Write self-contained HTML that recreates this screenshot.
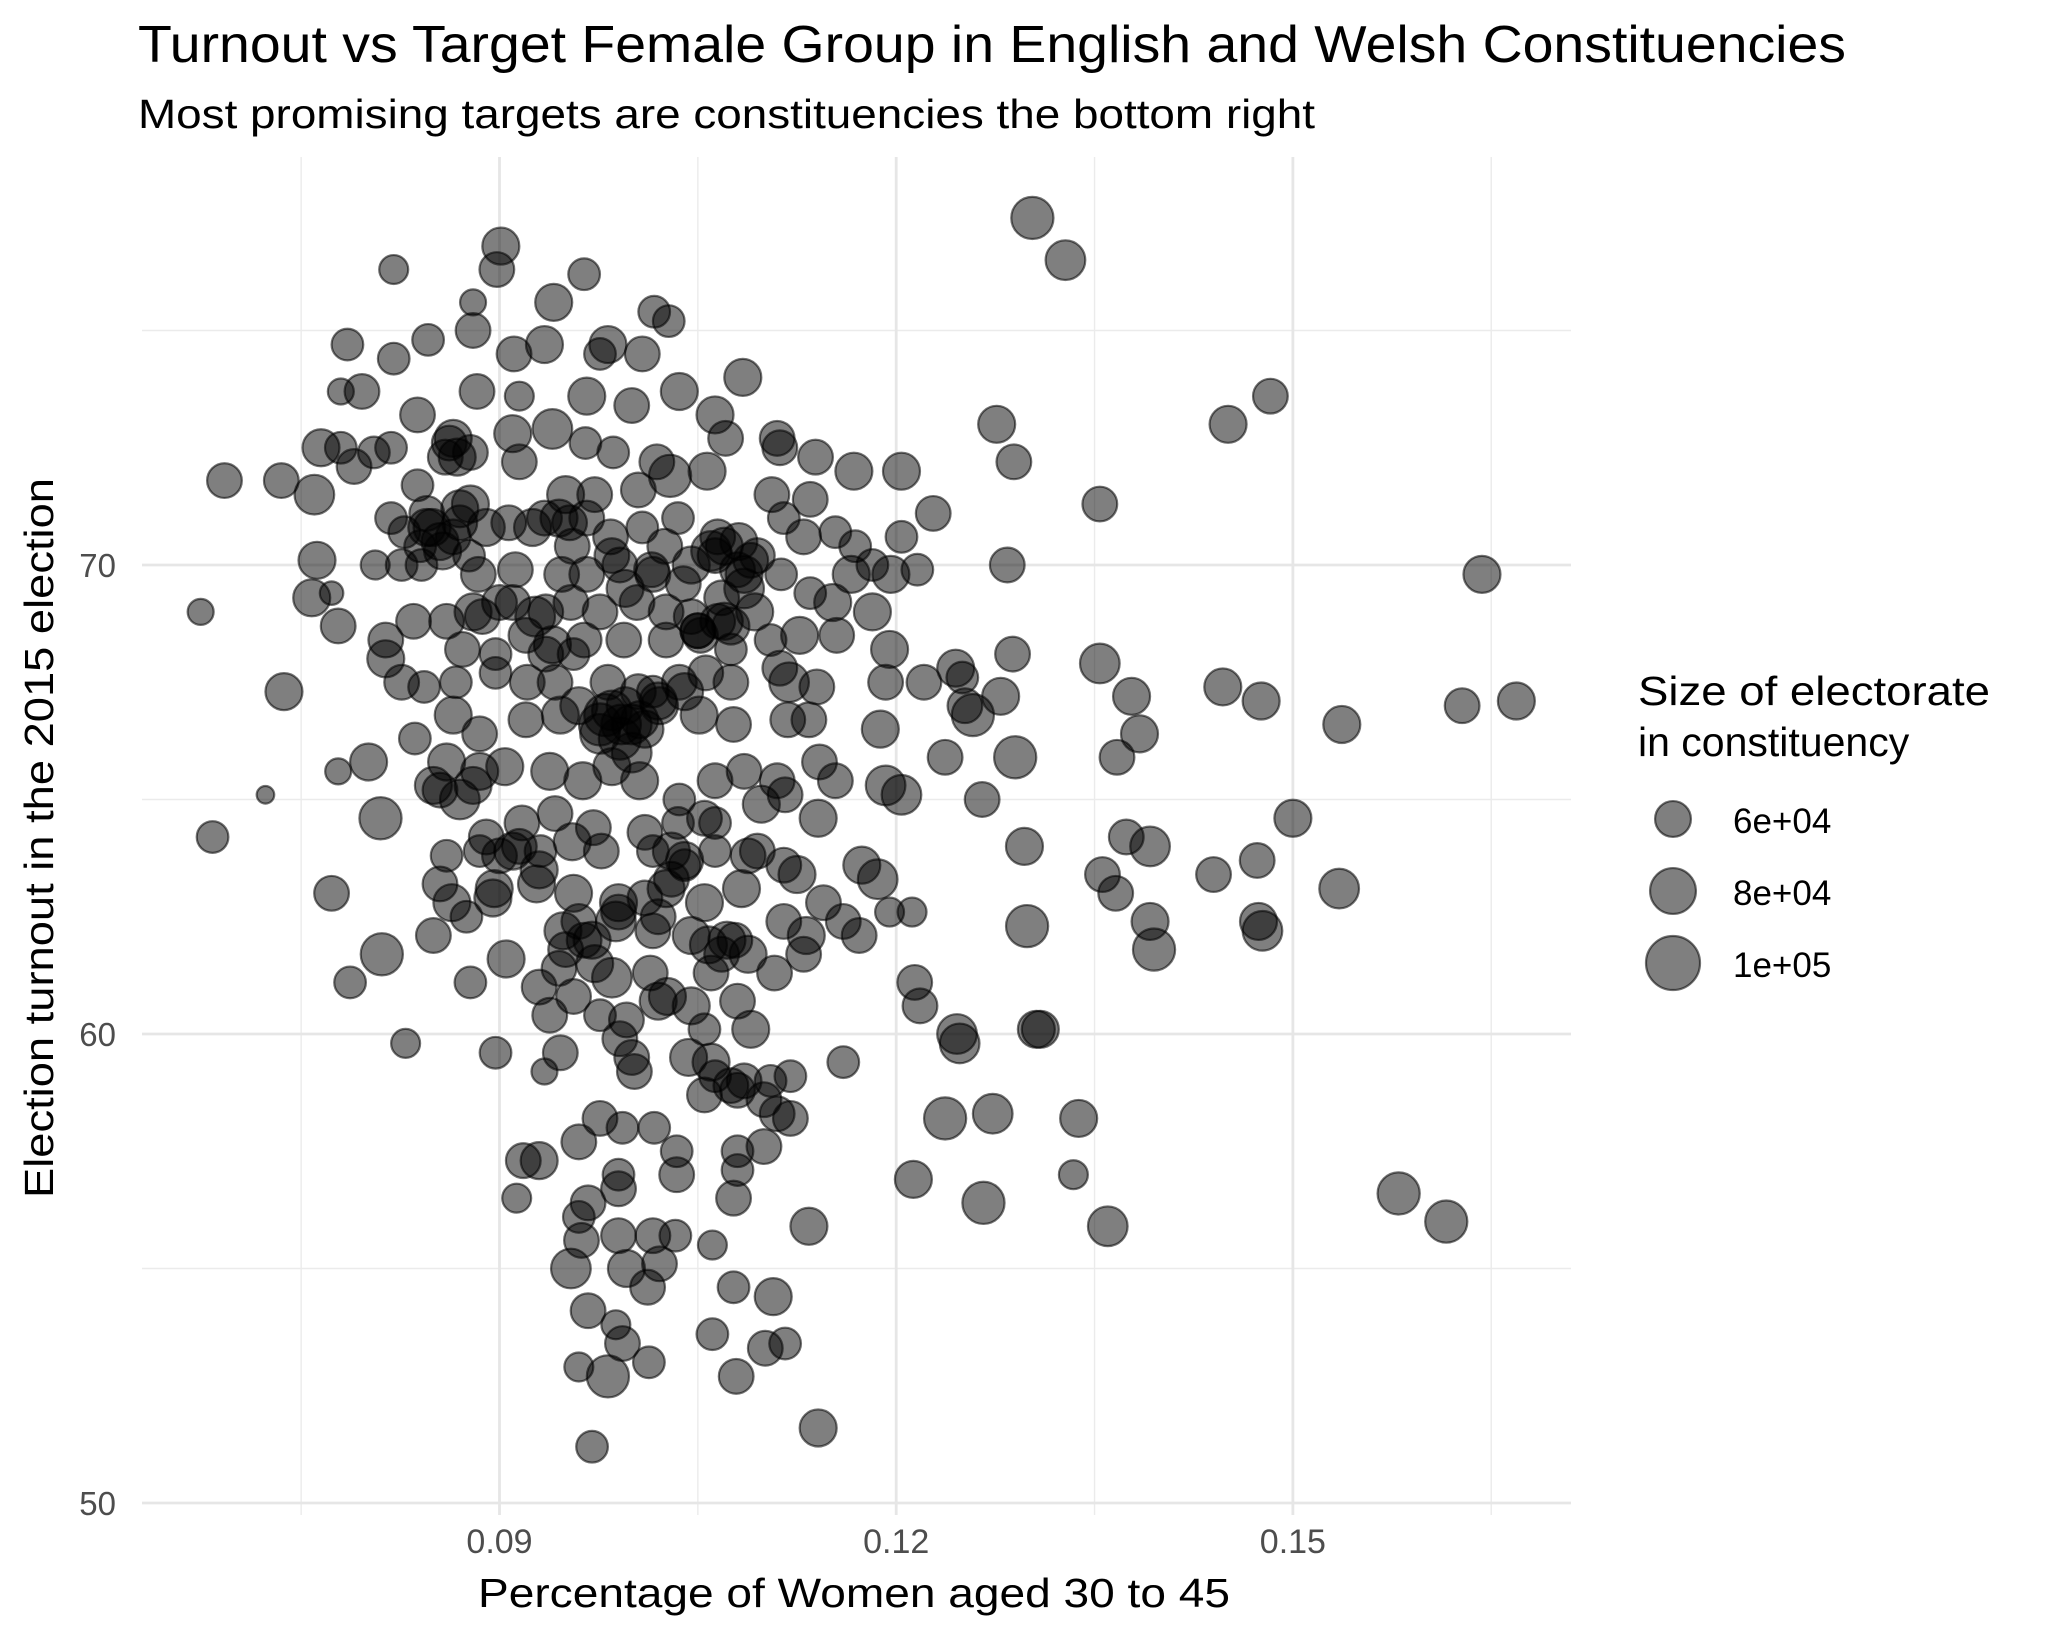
<!DOCTYPE html>
<html><head><meta charset="utf-8"><style>
html,body{margin:0;padding:0;background:#fff}
svg{display:block;font-family:"Liberation Sans",Arial,sans-serif}
</style></head><body>
<svg id="chart" width="2050" height="1641" viewBox="0 0 2050 1641" xmlns="http://www.w3.org/2000/svg">
<rect x="0" y="0" width="2050" height="1641" fill="#fff"/>
<g id="grid"></g>
<g id="points"></g>
<g id="axes"></g>
<text x="138" y="62" font-size="52" textLength="1708" lengthAdjust="spacingAndGlyphs" fill="#000">Turnout vs Target Female Group in English and Welsh Constituencies</text>
<text x="138" y="128" font-size="41" textLength="1177" lengthAdjust="spacingAndGlyphs" fill="#000">Most promising targets are constituencies the bottom right</text>
<text x="854" y="1607" font-size="41" text-anchor="middle" textLength="752" lengthAdjust="spacingAndGlyphs" fill="#000">Percentage of Women aged 30 to 45</text>
<text x="0" y="0" font-size="41" text-anchor="middle" textLength="720" lengthAdjust="spacingAndGlyphs" transform="translate(53,838) rotate(-90)" fill="#000">Election turnout in the 2015 election</text>
<g id="legend">
<text x="1638" y="705" font-size="41" textLength="352" lengthAdjust="spacingAndGlyphs">Size of electorate</text>
<text x="1638" y="756" font-size="41">in constituency</text>
</g>
</svg>
<script>
const xTicks=[0.09,0.12,0.15];
const xTickLabels=["0.09","0.12","0.15"];
const xMinor=[0.075,0.105,0.135,0.165];
const yTicks=[50,60,70];
const yTickLabels=["50","60","70"];
const yMinor=[55,65,75];
const legendSizes=[60000,80000,100000];
const legendLabels=["6e+04","8e+04","1e+05"];
const pct=[.1303,.1328,.1483,.1451,.1276,.1289,.1354,.1643,.1284,.1288,.1354,.1378,.1447,.1476,.1628,.1669,.1537,.1384,.1367,.1279,.1290,.1265,.1500,.1297,.1374,.1392,.1356,.1366,.1440,.1473,.1535,.1299,.1392,.1474,.1477,.1395,.1306,.1309,.1246,.1248,.1237,.1273,.1338,.1213,.1266,.1334,.1360,.1580,.1616,.1214,.1218,.1212,
.0901,.0898,.0820,.0964,.0880,.0941,.1017,.1028,.0982,.0934,.0880,.0846,.0785,.0820,.0911,.0976,.1008,.0796,.0780,.0883,.0915,.0966,.1000,.1036,.1084,.1063,.1071,.0838,.0865,.0765,.0780,.0805,.0818,.0859,.0878,.0910,.0940,.0915,.0965,.0986,.1019,.1029,.1057,.1110,.1112,.1139,.1168,.1204,.1228,.1204,
.0692,.0735,.0760,.0790,.0838,.0878,.0950,.0972,.1005,.1106,.1135,.0818,.0828,.0849,.0865,.0877,.0907,.0934,.0953,.0966,.0984,.1008,.1035,.1065,.1081,.1095,.1115,.1130,.1154,.1169,.1182,.1166,.1196,.1216,.0762,.0773,.0758,.0674,.0778,.0806,.0826,.0841,.0884,.0912,.0947,.0966,.0991,.1016,.1039,.1063,.1085,.1113,.1135,.1152,.1182,.1093,.1068,.1045,.1026,.1004,.0976,.0954,.0935,.0910,.0887,.0860,.0835,.0814,
.0872,.0897,.0935,.0964,.0994,.1026,.1052,.1075,.1105,.1127,.1155,.1195,.0814,.0826,.0843,.0867,.0897,.0921,.0942,.0956,.0982,.1005,.1016,.1036,.1056,.1075,.1112,.1119,.1140,.1192,.1221,.1245,.1250,.1258,.1252,.0737,.0865,.0885,.0920,.0946,.0976,.0992,.1006,.1021,.1051,.1077,.1118,.1134,.1188,.1237,.0836,.0801,.0778,.0723,.0860,.0885,.0904,.0938,.0963,.0985,.1006,.1036,.1063,.1085,.1110,.1142,.1154,.1192,.1204,
.0810,.0855,.0870,.0917,.0942,.0971,.1010,.1035,.1063,.1098,.1116,.1141,.0683,.0860,.0885,.0910,.0931,.0955,.0977,.1016,.1040,.1063,.1095,.1115,.1174,.1186,.0864,.0896,.0928,.0956,.0990,.1026,.1055,.1083,.1125,.1145,.1160,.1195,.0773,.0850,.0875,.0948,.0964,.0988,.1016,.1045,.1072,.1115,.1132,.1172,.0811,.0787,.0878,.0945,.0972,.0985,.1014,.1027,.1060,.1088,.1108,.1130,
.0938,.0956,.0976,.0996,.1020,.1045,.1055,.1080,.1090,.0829,.0897,.0946,.0991,.1000,.1002,.1043,.1060,.1063,.1085,.1105,.1120,.1160,.0934,.1055,.1080,.1100,.1110,.1120,.0976,.0993,.1017,.0960,.1034,.1080,.1080,.0930,.0918,.0990,.1034,.0990,.0913,.0967,.0960,.1077,.1134,.0990,.1016,.1033,.1061,.0962,.0954,.0996,.1021,.1012,.1077,.1107,.0967,.0993,.0988,.1061,.1116,.1101,.0960,.0982,.1013,.1079,.1141,.0970,
.0991,.0976,.0985,.0927,.0857,.0840,.0862,.0868,.0845,.0870,.0890,.1000,.1010,.0995,.1050,.1070,.1085,.1040,.0960,.0950,.0930,.0905,.0895,.0855,.0850,.1020,.1030,.1055,.1075,.1100,
.0925,.0945,.0955,.0985,.0995,.1015,.1025,.1045,.1060,.1070,.1080,.1090,.0920,.0940,.0960,.0980,.1000,.1020,.1040,.1050,.1065,.1075,.0880,.0890,.0900,.0915,.0930,.0970,.0990,.1010,.1030,.1058,.1068,.1078,.1088,.0845,.0855,.0870,.0880,.0900];
const turnout=[77.4,76.5,73.6,73.0,73.0,72.2,71.3,69.8,70.0,68.1,67.9,67.2,67.4,67.1,67.0,67.1,66.6,66.4,65.9,67.2,65.9,65.0,64.6,64.0,64.2,64.0,63.4,63.0,63.4,63.7,63.1,62.3,62.4,62.4,62.2,61.8,60.1,60.1,60.0,59.8,58.2,58.3,58.2,56.9,56.4,57.0,55.9,56.6,56.0,61.1,60.6,62.6,
76.8,76.3,76.3,76.2,75.6,75.6,75.4,75.2,74.7,74.7,75.0,74.8,74.7,74.4,74.5,74.5,74.5,73.7,73.7,73.7,73.6,73.6,73.4,73.7,74.0,73.2,72.7,73.2,72.7,72.5,72.5,72.4,72.5,72.3,72.4,72.8,72.9,72.2,72.6,72.4,72.2,71.9,72.0,72.7,72.5,72.3,72.0,72.0,71.1,70.6,
71.8,71.8,71.5,72.1,71.7,71.3,71.5,71.5,71.6,71.5,71.4,71.0,70.7,70.8,70.6,70.2,70.9,71.0,70.9,71.0,70.6,70.8,71.0,70.6,70.5,70.2,71.0,70.6,70.7,70.4,70.0,69.8,69.8,69.9,70.1,69.4,69.3,69.0,68.7,70.0,70.0,70.0,69.8,69.9,69.8,69.8,70.0,69.8,69.6,70.2,69.8,69.8,69.4,69.2,69.0,69.0,69.3,68.9,69.0,69.2,69.0,69.2,69.0,69.2,68.9,68.8,68.8,68.4,
68.2,68.1,68.1,68.4,68.4,68.4,68.5,68.2,68.4,68.5,68.5,68.2,68.0,67.5,67.4,67.5,67.7,67.5,67.5,68.1,67.5,67.3,67.3,67.5,67.7,67.5,67.8,67.5,67.4,67.5,67.5,67.8,67.6,66.8,67.0,67.3,66.8,66.4,66.7,66.8,66.4,66.6,66.7,67.0,66.8,66.6,66.7,66.7,66.5,65.9,66.3,65.8,65.6,65.1,65.8,65.6,65.7,65.6,65.4,65.7,65.4,65.0,65.4,65.6,65.4,65.8,65.4,65.3,65.1,
64.6,65.2,65.0,64.5,64.7,64.4,64.3,64.5,64.5,64.9,65.1,64.6,64.2,63.8,63.9,63.9,63.9,64.1,63.9,63.9,63.6,63.9,63.9,63.6,63.6,63.3,62.8,63.1,63.2,63.0,62.8,63.1,62.8,63.1,63.4,62.8,62.4,62.6,63.0,62.1,62.5,62.2,62.0,62.4,62.2,62.1,62.0,62.4,62.1,62.1,61.7,61.1,61.1,61.4,61.5,61.2,61.3,60.8,61.3,61.7,61.3,61.7,
60.4,60.8,60.4,60.3,60.7,60.6,60.1,60.7,60.1,59.8,59.6,59.6,59.9,59.5,59.2,59.5,59.4,59.1,59.0,59.0,59.1,59.4,59.2,58.7,58.8,58.6,58.3,58.2,58.2,58.0,58.0,57.7,57.5,57.5,57.1,57.3,57.3,57.0,57.0,56.7,56.5,56.4,56.1,56.5,55.9,55.7,55.7,55.7,55.5,55.6,55.0,55.0,55.1,54.6,54.6,54.4,54.1,53.4,53.8,53.6,53.4,53.3,52.9,52.7,53.0,52.7,51.6,51.2,
66.3,66.6,66.9,68.9,70.3,70.4,72.6,72.3,71.1,71.2,70.8,66.0,66.5,67.0,68.6,68.8,69.5,63.7,62.4,61.8,61.0,61.6,62.9,63.2,65.3,62.5,63.9,64.6,58.9,57.6,
70.8,71.0,70.4,70.2,69.5,69.9,70.4,70.0,70.3,70.4,69.9,70.1,68.5,68.3,67.0,66.8,66.6,67.1,67.3,68.6,68.8,68.7,65.3,64.2,63.8,64.0,63.5,62.0,62.6,62.9,63.3,61.9,61.7,62.0,63.8,70.8,70.5,70.9,69.0,69.2];
const electorate=[72,67,58,62,62,58,58,62,58,58,67,62,62,62,58,62,62,62,58,62,72,58,62,62,58,67,58,58,58,58,67,72,62,62,67,72,62,62,67,67,72,67,62,62,72,49,67,72,72,58,58,49,
62,58,49,53,45,62,53,53,62,62,58,53,53,53,58,53,58,58,45,58,49,62,58,62,62,62,58,58,62,62,53,53,53,58,58,62,67,58,53,53,58,72,62,58,58,58,62,62,58,53,
58,58,67,58,53,62,62,58,58,58,58,53,53,62,58,53,58,58,58,58,58,53,53,58,62,58,53,58,53,53,53,62,62,53,62,42,62,45,58,49,53,53,58,58,58,58,58,58,58,58,62,53,53,62,62,62,58,58,58,58,58,58,58,58,58,58,58,58,
58,53,58,58,58,58,58,53,53,62,58,62,62,58,53,53,53,58,58,53,58,58,53,58,58,58,58,67,58,58,58,62,53,72,58,62,62,58,58,62,67,67,62,62,62,58,58,58,62,58,53,62,45,36,62,62,62,62,62,62,62,53,58,58,58,58,58,67,67,
72,58,67,58,58,58,58,53,53,62,58,62,53,53,53,62,53,62,58,53,53,53,58,58,62,67,62,62,62,62,62,62,62,62,62,58,58,49,58,58,53,62,58,67,58,62,62,58,62,58,72,53,53,58,62,67,58,62,58,62,58,58,
58,58,53,58,62,62,53,58,62,49,53,58,58,58,58,62,62,53,58,53,53,53,45,58,58,58,58,58,58,53,53,58,53,53,53,62,58,53,58,58,49,58,53,58,62,58,58,53,49,58,67,62,58,58,53,62,58,58,49,53,53,58,49,72,53,58,62,53,
72,72,67,67,62,53,58,62,58,62,62,67,62,62,58,62,67,62,58,58,58,62,62,58,62,58,62,58,58,58,
62,62,58,58,62,58,58,62,67,62,58,58,58,62,62,72,67,62,62,58,58,62,62,58,58,58,62,62,58,58,58,62,58,58,58,62,62,58,62,58];

const NS='http://www.w3.org/2000/svg';
const PL=142,PR=1571,PT=157,PB=1515;
function xs(v){return 499.5+(v-0.09)*13223;}
function ys(v){return 1503-(v-50)*46.9;}
function rs(k){return Math.sqrt(Math.max(16,0.0102*k-290));}
function mk(tag,attrs,parent){const e=document.createElementNS(NS,tag);for(const k in attrs)e.setAttribute(k,attrs[k]);parent.appendChild(e);return e;}
const grid=document.getElementById('grid'),pts=document.getElementById('points'),axes=document.getElementById('axes'),leg=document.getElementById('legend');
xMinor.forEach(v=>{const l=mk('line',{x1:xs(v),x2:xs(v),y1:PT,y2:PB,stroke:'#ebebeb','stroke-width':1.4},grid);

});
yMinor.forEach(v=>{const l=mk('line',{x1:PL,x2:PR,y1:ys(v),y2:ys(v),stroke:'#ebebeb','stroke-width':1.4},grid);

});
xTicks.forEach((v,i)=>{const l=mk('line',{x1:xs(v),x2:xs(v),y1:PT,y2:PB,stroke:'#e6e6e6','stroke-width':2.8},grid);


const t=mk('text',{x:xs(v),y:1553,'font-size':34,'text-anchor':'middle',fill:'#4d4d4d'},axes);t.textContent=xTickLabels[i];

});
yTicks.forEach((v,i)=>{const l=mk('line',{x1:PL,x2:PR,y1:ys(v),y2:ys(v),stroke:'#e6e6e6','stroke-width':2.8},grid);


const t=mk('text',{x:116,y:ys(v)+12,'font-size':33,'text-anchor':'end',fill:'#4d4d4d'},axes);t.textContent=yTickLabels[i];

});
for(let i=0;i<pct.length;i++){
const c=mk('circle',{cx:xs(pct[i]),cy:ys(turnout[i]),r:rs(electorate[i]*1000),fill:'rgba(0,0,0,0.5)',stroke:'rgba(0,0,0,0.55)','stroke-width':2.2},pts);

}
const legY=[819,891,963],labY=[833,905,977];
legendSizes.forEach((s,i)=>{const c=mk('circle',{cx:1673,cy:legY[i],r:rs(s),fill:'rgba(0,0,0,0.5)',stroke:'rgba(0,0,0,0.55)','stroke-width':2.2},leg);


const t=mk('text',{x:1733,y:labY[i],'font-size':35,fill:'#000'},leg);t.textContent=legendLabels[i];

});
</script>
</body></html>
